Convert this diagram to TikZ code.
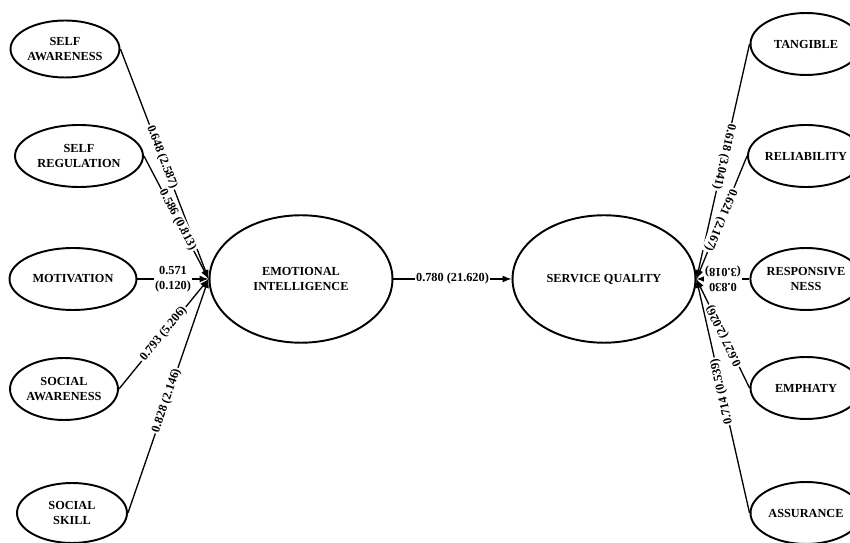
\documentclass[tikz,border=0pt]{standalone}
\usepackage{fontspec}
\setmainfont{Liberation Serif}
\usepackage{tikz}
\usetikzlibrary{shapes.geometric,arrows,positioning}
\tikzset
{
    indicator/.style = {ellipse, draw=black, line width=1.1pt, align=center, inner sep=0pt, minimum height=1.24cm, font=\fontsize{7}{9}\selectfont\bfseries},
    construct/.style = {ellipse, draw=black, line width=1.1pt, align=center, inner sep=0pt, minimum width=3.66cm, minimum height=2.55cm, font=\fontsize{7}{9}\selectfont\bfseries},
    loading/.style   = {fill=white, inner sep=0.8pt, align=center, font=\fontsize{7}{8.5}\selectfont\bfseries},
    path/.style      = {->, >=latex, line width=0.75pt}
}
\begin{document}
\begin{tikzpicture}[x=0.02cm, y=-0.02cm]
	\useasboundingbox (0,0) rectangle (850,543);
	% left side
	\node[indicator, minimum width=2.18cm, minimum height=1.14cm] (sa) at (65,49) {SELF\\AWARENESS};
	\node[indicator, minimum width=2.56cm] (sr) at (79,156) {SELF\\REGULATION};
	\node[indicator, minimum width=2.54cm] (mot) at (73,279) {MOTIVATION};
	\node[indicator, minimum width=2.16cm] (soca) at (64,389) {SOCIAL\\AWARENESS};
	\node[indicator, minimum width=2.2cm, minimum height=1.2cm] (socs) at (72,513) {SOCIAL\\SKILL};
	% constructs
	\node[construct] (ei) at (301,279) {EMOTIONAL\\INTELLIGENCE};
	\node[construct] (sq) at (604,279) {SERVICE QUALITY};
	% right side
	\node[indicator, minimum width=2.22cm] (tang) at (806,44) {TANGIBLE};
	\node[indicator, minimum width=2.22cm] (rel) at (806,156) {RELIABILITY};
	\node[indicator, minimum width=2.22cm] (resp) at (806,279) {RESPONSIVE\\NESS};
	\node[indicator, minimum width=2.22cm] (emp) at (806,388) {EMPHATY};
	\node[indicator, minimum width=2.22cm] (ass) at (806,513) {ASSURANCE};

	\draw[path] (sa.east) -- node[loading, sloped, pos=0.47] {0.648 (2.587)} (ei.west);
	\draw[path] (sr.east) -- node[loading, sloped, pos=0.52] {0.586 (0.813)} (ei.west);
	\draw[path] (mot.east) -- node[loading] {0.571\\(0.120)} (ei.west);
	\draw[path] (soca.east) -- node[loading, sloped] {0.793 (5.206)} (ei.west);
	\draw[path] (socs.east) -- node[loading, sloped, pos=0.48] {0.828 (2.146)} (ei.west);

	\draw[path] (ei) -- node[loading] {0.780 (21.620)} (sq);

	\draw[path] (tang.west) -- node[loading, sloped, allow upside down, pos=0.48] {0.618 (3.041)} (sq.east);
	\draw[path] (rel.west) -- node[loading, sloped, allow upside down, pos=0.52] {0.621 (2.167)} (sq.east);
	\draw[path] (resp.west) -- node[loading, sloped, allow upside down] {0.830\\(3.018)} (sq.east);
	\draw[path] (emp.west) -- node[loading, sloped, allow upside down, pos=0.48] {0.627 (2.026)} (sq.east);
	\draw[path] (ass.west) -- node[loading, sloped, allow upside down, pos=0.52] {0.714 (0.539)} (sq.east);
\end{tikzpicture}
\end{document}
